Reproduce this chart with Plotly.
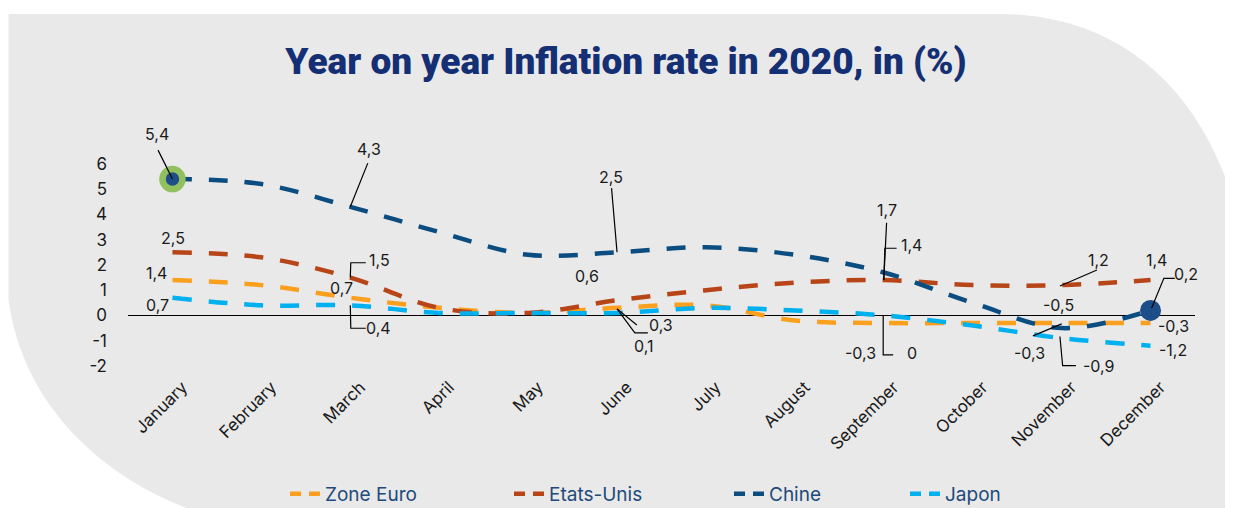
import plotly.graph_objects as go

# ---------------- data ----------------
months = ["January", "February", "March", "April", "May", "June", "July",
          "August", "September", "October", "November", "December"]
zone_euro = [1.4, 1.2, 0.7, 0.3, 0.1, 0.3, 0.4, -0.2, -0.3, -0.3, -0.3, -0.3]
etats_unis = [2.5, 2.3, 1.5, 0.3, 0.1, 0.6, 1.0, 1.3, 1.4, 1.2, 1.2, 1.4]
chine = [5.4, 5.2, 4.3, 3.3, 2.4, 2.5, 2.7, 2.4, 1.7, 0.5, -0.5, 0.2]
japon = [0.7, 0.4, 0.4, 0.1, 0.1, 0.1, 0.3, 0.2, 0.0, -0.4, -0.9, -1.2]
y_ticks = [-2, -1, 0, 1, 2, 3, 4, 5, 6]
series_names = ["Zone Euro", "Etats-Unis", "Chine", "Japon"]

# ---------------- styles ----------------
W, H = 1233, 508
OFF = 8  # page offset of the figure inside the browser window
L, R, T, B = 120, 46, 118, 145
PW, PH = W - L - R, H - T - B
colors = {"Zone Euro": "#fb9f1f", "Etats-Unis": "#b84517",
          "Chine": "#0b4d80", "Japon": "#00b0ef"}
values = {"Zone Euro": zone_euro, "Etats-Unis": etats_unis,
          "Chine": chine, "Japon": japon}
x_idx = list(range(len(months)))
FONT = "Inter"
TXT = "#1a1a1a"

fig = go.Figure()

for name in series_names:
    fig.add_trace(go.Scatter(
        x=x_idx, y=values[name], mode="lines", name=name, showlegend=False,
        line=dict(color=colors[name], width=4.5, dash="19px,17px",
                  shape="spline", smoothing=1.0),
        hoverinfo="skip"))

# highlighted points
fig.add_trace(go.Scatter(
    x=[x_idx[0]], y=[chine[0]], mode="markers", showlegend=False,
    marker=dict(size=20, color="#1d4e89", line=dict(color="#92c05e", width=6.5)),
    hoverinfo="skip"))
fig.add_trace(go.Scatter(
    x=[x_idx[11]], y=[chine[11]], mode="markers", showlegend=False,
    marker=dict(size=21, color="#1d4e89", line=dict(width=0)),
    hoverinfo="skip"))

# legend entries (one legend per entry, to place them like the reference)
legend_text_px = [325, 549, 769, 945]
legend_keys = ["legend", "legend2", "legend3", "legend4"]
for name, key in zip(series_names, legend_keys):
    fig.add_trace(go.Scatter(
        x=[None], y=[None], mode="lines", name=name, legend=key,
        line=dict(color=colors[name], width=4.5, dash="11px,8px")))


def fmt(v):
    if v == 0:
        return "0"
    return f"{v:.1f}".replace(".", ",")


# data labels: (series, month index, dx, dy, leader path offsets in px, y up)
labels = [
    ("Chine", 0, -15, 45, [(-14.4, 28.9), (0, 0)]),
    ("Chine", 2, 18.5, 58, [(17.5, 43.7), (0, 0)]),
    ("Etats-Unis", 0, 0.3, 14.5, None),
    ("Zone Euro", 0, -15.7, 6.6, None),
    ("Japon", 0, -15.2, -7.2, None),
    ("Etats-Unis", 2, 29.5, 17.5, [(15.5, 14.85), (0.5, 14.85), (0, 0)]),
    ("Zone Euro", 2, -8.5, 9.3, None),
    ("Japon", 2, 28.5, -22.6, [(0, 0), (0.5, -22.9), (15.5, -22.9)]),
    ("Chine", 5, -6.2, 75.5, [(-5.5, 64.25), (0, 0)]),
    ("Etats-Unis", 5, -30.2, 24.3, None),
    ("Zone Euro", 5, 43.8, -17.6, [(0, -1), (19.8, -17.1)]),
    ("Japon", 5, 26.8, -33.5, [(0, 4), (17.8, -20), (30.8, -20)]),
    ("Chine", 8, 3.1, 62.5, [(2.8, 49.8), (0, -7.5)]),
    ("Etats-Unis", 8, 28.1, 35.1, [(12.8, 31.8), (1.1, 31.8), (0, 0)]),
    ("Zone Euro", 8, -22.9, -30.4, None),
    ("Japon", 8, 28.1, -37.5, [(-0.6, 0.5), (-0.6, -39.5), (9.4, -39.5)]),
    ("Etats-Unis", 10, 36.8, 25.1, [(35.3, 15.1), (-1.7, -0.9)]),
    ("Chine", 10, -3.2, 23.2, None),
    ("Zone Euro", 10, -32.2, -30.4, [(-28.7, -12.9), (0, -0.9)]),
    ("Japon", 10, 37.3, -27.7, [(-1.7, 1.6), (1, -27.4), (14.3, -27.4)]),
    ("Etats-Unis", 11, 6.3, 20.1, None),
    ("Chine", 11, 35.8, 35.9, [(24.3, 32.1), (13.3, 32.1), (1, 2.1)]),
    ("Zone Euro", 11, 22.8, -3.4, None),
    ("Japon", 11, 22.3, -4.1, None),
]

annotations = []
shapes = []


def rel(px, py):
    # screen pixel -> offset from plot origin (bottom-left), y up
    return (px - OFF) - L, (H - B) - (py - OFF)


# background panel with rounded corners
bg_pts = [("M", [(8.5, 14)]), ("L", [(1000, 14)]),
          ("C", [(1120, 14), (1200, 90), (1233, 200)]),
          ("L", [(1245, 230)]), ("L", [(1245, 520)]), ("L", [(225, 520)]),
          ("C", [(125, 495), (25, 420), (8.5, 300)]), ("Z", [])]
path = ""
for cmd, pts in bg_pts:
    path += cmd + " ".join("%.1f,%.1f" % rel(px, py) for px, py in pts) + " "
shapes.append(dict(type="path", xref="paper", yref="paper", xsizemode="pixel",
                   ysizemode="pixel", xanchor=0, yanchor=0, path=path.strip(),
                   fillcolor="#e9e9e9", line=dict(width=0), layer="below"))

for name, i, dx, dy, lead in labels:
    v = values[name][i]
    annotations.append(dict(
        x=x_idx[i], y=v, xref="x", yref="y", text=fmt(v), showarrow=False,
        xshift=dx, yshift=dy, xanchor="center", yanchor="middle",
        font=dict(family=FONT, size=16, color=TXT)))
    if lead:
        p = "M" + " L".join("%.1f,%.1f" % pt for pt in lead)
        shapes.append(dict(type="path", xref="x", yref="y", xsizemode="pixel",
                           ysizemode="pixel", xanchor=x_idx[i], yanchor=v,
                           path=p, line=dict(color="#000000", width=1.2),
                           layer="above"))

legend_common = dict(orientation="h", yanchor="bottom", xanchor="left",
                     y=((H - B) - 505) / PH, bgcolor="rgba(0,0,0,0)",
                     font=dict(family=FONT, size=19, color="#214a7a"),
                     itemclick=False, itemdoubleclick=False)
legends = {}
for key, px in zip(legend_keys, legend_text_px):
    legends[key] = dict(legend_common, x=(px - 48 - L) / PW)

fig.update_layout(
    width=W, height=H,
    margin=dict(l=L, r=R, t=T, b=B, pad=0, autoexpand=False),
    paper_bgcolor="#ffffff", plot_bgcolor="rgba(0,0,0,0)",
    title=dict(text="Year on year Inflation rate in 2020, in (%)",
               x=618 / W, xanchor="center", y=1 - 53 / H, yanchor="middle",
               font=dict(family="Roboto", size=37, color="#142f73", weight=900)),
    xaxis=dict(range=[-0.5, 11.5], tickvals=x_idx, ticktext=months,
               tickangle=-45, showgrid=False, zeroline=False, showline=False,
               ticks="", ticklabelshift=10, ticklabelstandoff=2,
               tickfont=dict(family=FONT, size=17, color=TXT)),
    yaxis=dict(range=[-2.2, 7.5], tickvals=y_ticks,
               ticktext=[str(t) for t in y_ticks], showgrid=False,
               zeroline=True, zerolinecolor="#000000", zerolinewidth=1,
               showline=False, ticks="", ticklabelstandoff=20,
               tickfont=dict(family=FONT, size=17, color=TXT)),
    annotations=annotations, shapes=shapes,
    **legends,
)

fig.write_html("out.html")
